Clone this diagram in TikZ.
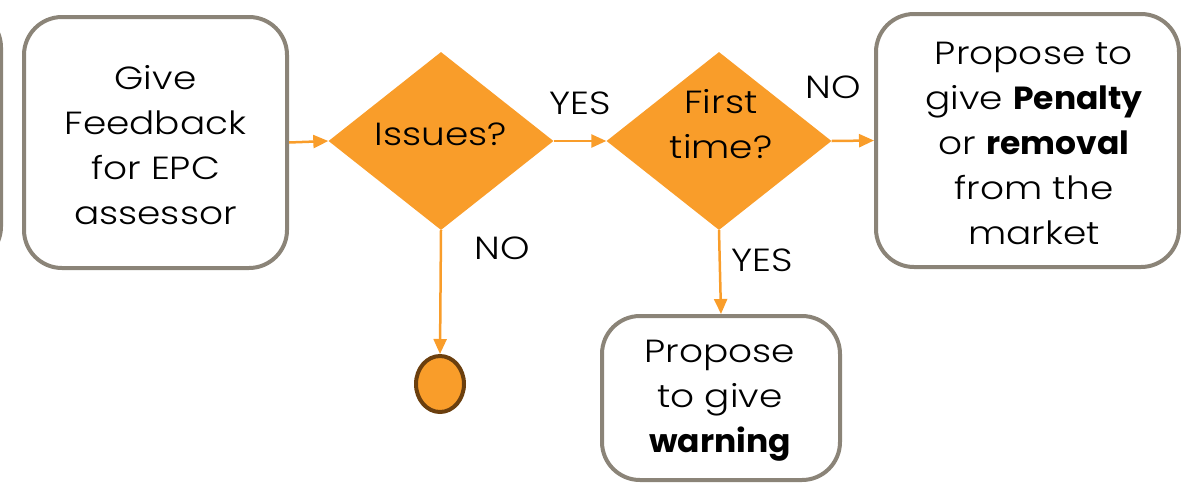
\documentclass[tikz,border=0pt]{standalone}
\usepackage{fontspec}
\setmainfont{Poppins}[UprightFont={* Light}, BoldFont={* Bold}, UprightFeatures={FakeStretch=1.17}, BoldFeatures={FakeStretch=1.03}]
\usetikzlibrary{shapes.geometric,arrows.meta}
\definecolor{orng}{HTML}{F99D2A}
\definecolor{gbox}{HTML}{8B8478}
\definecolor{brn}{HTML}{6B3F0E}
\tikzset{
  box/.style={draw=gbox, line width=4pt, rounded corners=38pt, fill=white, inner sep=0pt},
  dia/.style={diamond, fill=orng, draw=none, inner sep=0pt},
  txt/.style={align=center, font=\fontsize{32}{45}\selectfont, text=black, inner sep=0pt},
  lbl/.style={font=\fontsize{32}{36}\selectfont, text=black, inner sep=0pt},
  conn/.style={draw=orng, line width=2.5pt, -{Triangle[length=15pt,width=13pt]}, color=orng},
}
\begin{document}
\begin{tikzpicture}[x=1pt,y=-1pt]
\useasboundingbox (0,0) rectangle (1181,483);
\clip (0,0) rectangle (1181,483);
% partial box at left edge
\node[box, minimum width=300pt, minimum height=255pt] (b0) at (-149,137) {};
% boxes
\node[box, minimum width=263pt, minimum height=251pt] (b1) at (155.5,142.5) {};
\node[txt] (t1) at (155.5,145) {Give\\Feedback\\for EPC\\assessor};
\node[box, minimum width=303pt, minimum height=253pt] (b3) at (1027.5,140.5) {};
\node[txt] (t3) at (1034,143) {Propose to\\give \textbf{Penalty}\\or \textbf{removal}\\from the\\market};
\node[box, minimum width=238pt, minimum height=164pt] (b2) at (721,398) {};
\node[txt] (t2) at (720,401) {Propose\\to give\\\textbf{warning}};
% diamonds
\node[dia, minimum width=225pt, minimum height=178pt] (d1) at (441,141) {};
\node[txt] (td1) at (441,134) {Issues?};
\node[dia, minimum width=225pt, minimum height=178pt] (d2) at (719,141) {};
\node[txt] (td2) at (721,124) {First\\time?};
% end circle
\node[ellipse, fill=orng, draw=brn, line width=4pt, minimum width=48pt, minimum height=56pt, inner sep=0pt] (c1) at (440,384) {};
% connectors
\draw[conn] (b1.east) -- (d1.west);
\draw[conn] (d1.east) -- (d2.west);
\draw[conn] (d2.east) -- (b3.west);
\draw[conn] (d1.south) -- (c1.north);
\draw[conn] (d2.south) -- (b2.north);
% labels
\node[lbl] (l1) at (580,103) {YES};
\node[lbl] (l2) at (833,87) {NO};
\node[lbl] (l3) at (502,248) {NO};
\node[lbl] (l4) at (762,260) {YES};
\end{tikzpicture}
\end{document}
